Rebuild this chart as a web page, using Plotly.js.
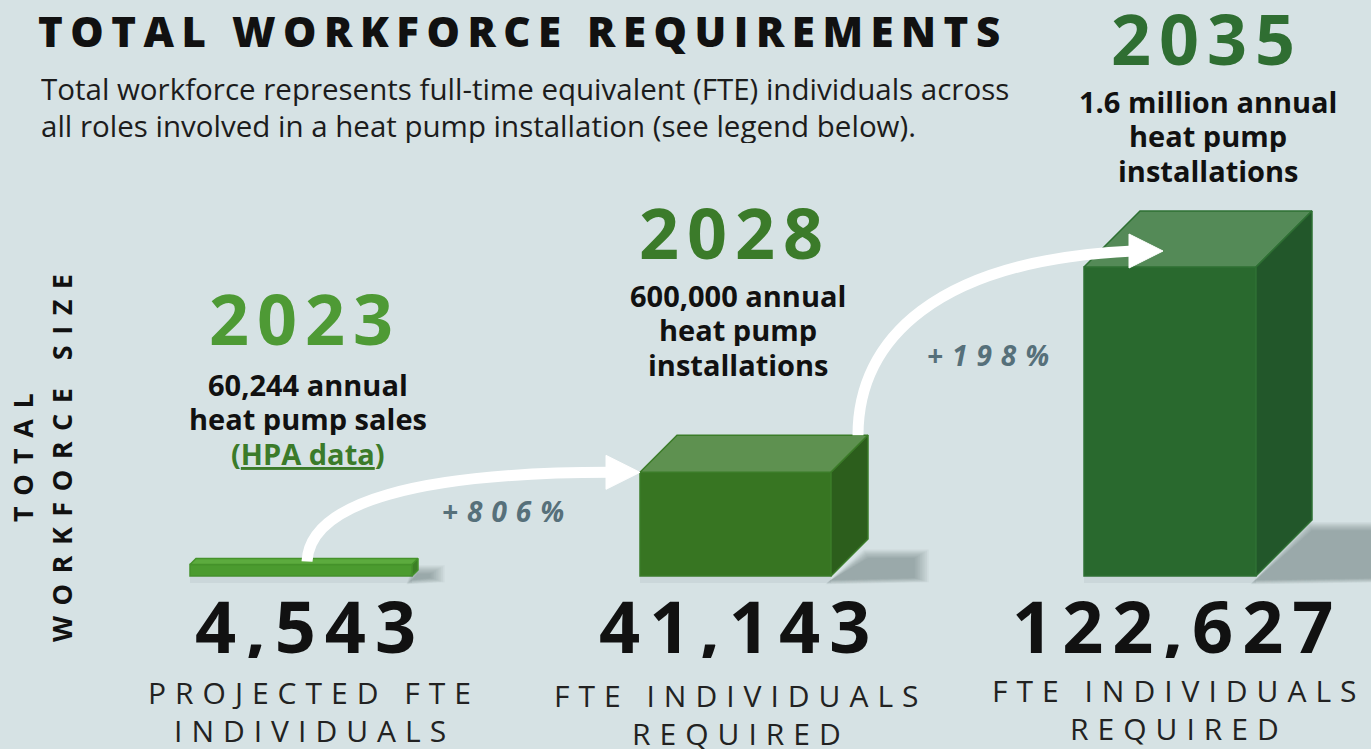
<!DOCTYPE html>
<html><head><meta charset="utf-8">
<script src="https://cdn.plot.ly/plotly-3.0.1.min.js"></script>
<style>html,body{margin:0;padding:0;background:#d6e2e4;}#chart{width:1371px;height:749px;}</style>
</head><body><div id="chart"></div>
<script>
// ---------- DATA ----------
const years = ['2023', '2028', '2035'];
const workforce = [4543, 41143, 122627];
const installations = ['60,244 annual<br>heat pump sales', '600,000 annual<br>heat pump<br>installations', '1.6 million annual<br>heat pump<br>installations'];
const sourceNote = 'HPA data';
const valueCaptions = ['PROJECTED FTE<br>INDIVIDUALS', 'FTE INDIVIDUALS<br>REQUIRED', 'FTE INDIVIDUALS<br>REQUIRED'];
const growthLabels = ['+806%', '+198%'];
const titleText = 'TOTAL WORKFORCE REQUIREMENTS';
const subtitleLines = ['Total workforce represents full-time equivalent (FTE) individuals across', 'all roles involved in a heat pump installation (see legend below).'];
const yTitle = 'TOTAL<br>WORKFORCE SIZE';

// ---------- STYLE / LAYOUT CONSTANTS ----------
const W = 1371, H = 749;
const BG = '#d6e2e4';
const FRONT = ['#4b9b2f', '#377522', '#29692e'];
const TOP = ['#5cab3e', '#5e9150', '#548a57'];
const SIDE = ['#3c7f26', '#2c5e1c', '#22572a'];
const EDGE = ['#45922b', '#3b7c28', '#2e7033'];
const YEAR_COLORS = ['#4e9a35', '#3b7b2a', '#2f6e32'];
const BAR_W_PX = [222, 191, 172];
const DEPTH_PX = [6, 37, 56];
const X0_PX = 301, XN_PX = 1170, BASE_PX = 576, MAXTOP_PX = 267;
const FONT = 'Open Sans, Noto Sans, sans-serif';

const pxu = (XN_PX - X0_PX) / (years.length - 1);
const maxV = Math.max(...workforce);
const upp = maxV / (BASE_PX - MAXTOP_PX);
const xRange = [-X0_PX / pxu, (W - X0_PX) / pxu];
const yRange = [-(H - BASE_PX) * upp, BASE_PX * upp];
const dx = p => p / pxu, dy = p => p * upp;
const xs = years.map((_, i) => i);
const bw = BAR_W_PX.map(dx);

const traces = [];
// soft shadows (layered translucent polygons)
xs.forEach((x, i) => {
  const D = DEPTH_PX[i];
  const r = x + bw[i] / 2;
  const hPx = workforce[i] / upp;
  const ext = D * 1.1 + 6;
  const top = D * 0.15 + 0.12 * hPx;
  const N = 9, blur = 14;
  for (let k = 0; k < N; k++) {
    const e = blur * (1 - k / (N - 1));
    traces.push({
      type: 'scatter', mode: 'lines', fill: 'toself', hoverinfo: 'skip',
      x: [r - dx(e * 0.4), r + dx(D + ext + e), r + dx(D + ext + e), r + dx(D - e * 0.3), r - dx(e * 0.4)],
      y: [-dy(4 + e * 0.3), -dy(2 + e * 0.3), dy(top + e * 0.6), dy(top + e * 0.6), -dy(4 + e * 0.3)],
      line: {width: 0}, fillcolor: 'rgba(80,92,98,0.055)'
    });
  }
  traces.push({
    type: 'scatter', mode: 'lines', fill: 'toself', hoverinfo: 'skip',
    x: [x - bw[i] / 2, r, r, x - bw[i] / 2], y: [0, 0, -dy(7), -dy(7)],
    line: {width: 0}, fillcolor: 'rgba(80,92,98,0.08)'
  });
});
// front faces
traces.push({
  type: 'bar', x: xs, y: workforce, width: bw, hoverinfo: 'skip',
  marker: {color: FRONT, line: {color: EDGE, width: 1.5}}
});
// top & side faces
xs.forEach((x, i) => {
  const l = x - bw[i] / 2, r = x + bw[i] / 2, v = workforce[i];
  const d = dx(DEPTH_PX[i]), h = dy(DEPTH_PX[i]);
  traces.push({
    type: 'scatter', mode: 'lines', fill: 'toself', hoverinfo: 'skip',
    x: [l, r, r + d, l + d, l], y: [v, v, v + h, v + h, v],
    line: {color: EDGE[i], width: 1.5}, fillcolor: TOP[i]
  });
  traces.push({
    type: 'scatter', mode: 'lines', fill: 'toself', hoverinfo: 'skip',
    x: [r, r + d, r + d, r, r], y: [0, h, v + h, v, 0],
    line: {color: EDGE[i], width: 1.5}, fillcolor: SIDE[i]
  });
});

// curved arrows (anchored on the bar geometry)
const shapes = [];
function arrow(S, C1, C2, tip) {
  const E = [tip[0] - dx(30), tip[1]];
  shapes.push({type: 'path', xref: 'x', yref: 'y', layer: 'above',
    path: `M${S[0]},${S[1]} C${C1[0]},${C1[1]} ${C2[0]},${C2[1]} ${E[0]},${E[1]}`,
    line: {color: 'white', width: 11}});
  shapes.push({type: 'path', xref: 'x', yref: 'y', layer: 'above',
    path: `M${tip[0] - dx(34)},${tip[1] + dy(17)} L${tip[0]},${tip[1]} L${tip[0] - dx(34)},${tip[1] - dy(17)} Z`,
    fillcolor: 'white', line: {color: 'white', width: 1}});
}
{
  const S = [xs[0] + dx(6), workforce[0] + dy(DEPTH_PX[0] / 2)];
  const tip = [xs[1] - bw[1] / 2, workforce[1]];
  arrow(S, [S[0] + dx(3), S[1] + dy(60)], [S[0] + dx(113), tip[1]], tip);
}
{
  const S = [xs[1] + bw[1] / 2 + dx(27), workforce[1] + dy(DEPTH_PX[1])];
  const tip = [xs[2] - bw[2] / 2 + dx(79), workforce[2] + dy(16)];
  arrow(S, [S[0], S[1] + dy(95)], [S[0] + dx(77), tip[1] - dy(9)], tip);
}

// ---------- ANNOTATIONS ----------
const px = x => x / W, py = y => 1 - y / H;
const sp = (t, s) => `<span style="letter-spacing:${s}px">${t}</span>`;
const ann = [];
function A(text, x, y, o) {
  ann.push(Object.assign({text, x: px(x), y: py(y), xref: 'paper', yref: 'paper', showarrow: false,
    xanchor: 'center', yanchor: 'middle', align: 'center', borderpad: 0}, o));
}
A(sp(titleText, 7.5), 37, 30, {xanchor: 'left', height: 48, font: {family: FONT, size: 42, weight: 800, color: '#111'}});
subtitleLines.forEach((t, i) => A(t, 40, 88 + i * 37, {xanchor: 'left', align: 'left', height: 36, font: {family: FONT, size: 29.5, color: '#1c1c1c'}}));
yTitle.split('<br>').forEach((t, i) => A(sp(t, 10.5), 22 + i * 39, 453, {textangle: -90, font: {family: FONT, size: 27, weight: 700, color: '#111'}}));

const yearPos = [[305, 318], [735, 232], [1207, 38]];
const descTop = [[308, 384], [738, 295], [1208, 101]];
years.forEach((yv, i) => {
  A(sp(yv, 8), yearPos[i][0], yearPos[i][1], {height: 66, font: {family: FONT, size: 70, weight: 700, color: YEAR_COLORS[i]}});
  installations[i].split('<br>').forEach((ln, j) =>
    A(ln, descTop[i][0], descTop[i][1] + j * 34.5, {height: 33, font: {family: FONT, size: 29, weight: 700, color: '#111'}}));
});
A(`(<span style="text-decoration:underline">${sourceNote}</span>)`, 308, 453, {height: 33, font: {family: FONT, size: 29, weight: 700, color: '#3b7b2a'}});

const growthPos = [[507, 511], [992, 355]];
growthLabels.forEach((g, i) => A(sp(g, 9), growthPos[i][0], growthPos[i][1], {font: {family: FONT, size: 28, weight: 700, style: 'italic', color: '#56707a'}}));

const numPos = [310, 739, 1177];
const capTop = [[314, 692], [741, 695], [1179, 690]];
workforce.forEach((v, i) => {
  A(sp(v.toLocaleString('en-US'), 9), numPos[i], 625, {height: 66, font: {family: FONT, size: 72, weight: 700, color: '#111'}});
  valueCaptions[i].split('<br>').forEach((ln, j) =>
    A(sp(ln, 9), capTop[i][0], capTop[i][1] + j * 38, {height: 34, font: {family: FONT, size: 30, color: '#222'}}));
});

const layout = {
  width: W, height: H, margin: {l: 0, r: 0, t: 0, b: 0},
  paper_bgcolor: BG, plot_bgcolor: BG, showlegend: false, hovermode: false,
  xaxis: {range: xRange, visible: false, fixedrange: true},
  yaxis: {range: yRange, visible: false, fixedrange: true},
  shapes, annotations: ann, barmode: 'overlay'
};
Plotly.newPlot('chart', traces, layout, {displayModeBar: false, staticPlot: true});
</script></body></html>
